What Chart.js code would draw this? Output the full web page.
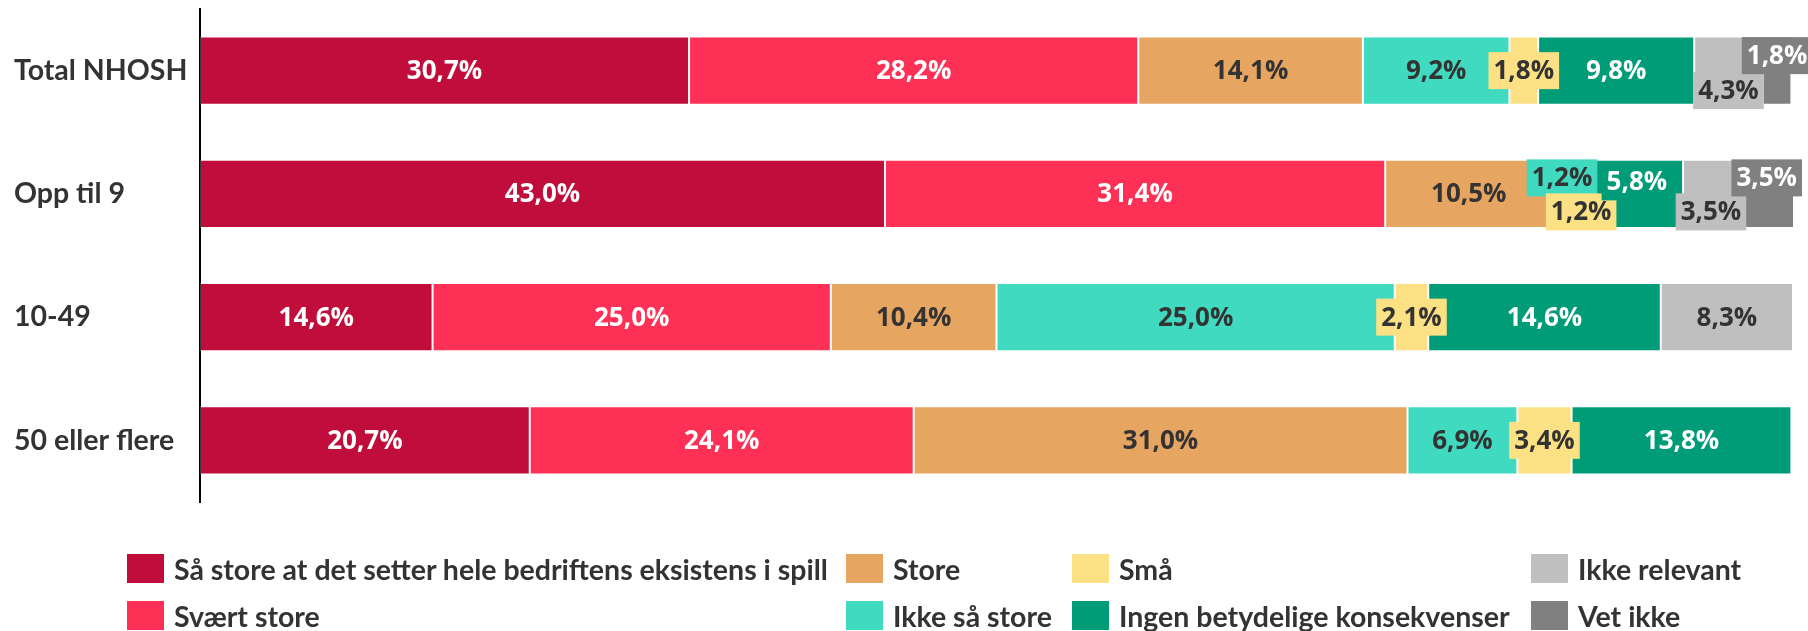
<!DOCTYPE html>
<html>
<head>
<meta charset="utf-8">
<script src="https://cdn.jsdelivr.net/npm/chart.js"></script>
<style>
html,body{margin:0;padding:0;background:#fff;}
#wrap{position:relative;width:1808px;height:631px;overflow:hidden;background:#fff;}
#c{position:absolute;left:0;top:0;}
#legend{position:absolute;left:127px;top:545px;display:grid;grid-template-columns:719px 226px 459px 260px;grid-template-rows:47px 47px;grid-auto-flow:column;font-family:Lato,"Open Sans",sans-serif;font-weight:700;font-size:28.5px;color:#333;}
.item{display:flex;align-items:center;white-space:nowrap;}
.box{width:37px;height:29px;margin-right:10px;flex:none;}
</style>
</head>
<body>
<div id="wrap">
<canvas id="c" width="1808" height="631"></canvas>
<div id="legend"></div>
</div>
<script>
// ---- data ----
const categories = ['Total NHOSH', 'Opp til 9', '10-49', '50 eller flere'];
const seriesNames = [
  'Så store at det setter hele bedriftens eksistens i spill',
  'Svært store',
  'Store',
  'Ikke så store',
  'Små',
  'Ingen betydelige konsekvenser',
  'Ikke relevant',
  'Vet ikke'
];
const saStore      = [30.7, 43.0, 14.6, 20.7];
const svaertStore  = [28.2, 31.4, 25.0, 24.1];
const store        = [14.1, 10.5, 10.4, 31.0];
const ikkeSaStore  = [9.2, 1.2, 25.0, 6.9];
const sma          = [1.8, 1.2, 2.1, 3.4];
const ingen        = [9.8, 5.8, 14.6, 13.8];
const ikkeRelevant = [4.3, 3.5, 8.3, 0];
const vetIkke      = [1.8, 3.5, 0, 0];

// ---- styles ----
const seriesValues = [saStore, svaertStore, store, ikkeSaStore, sma, ingen, ikkeRelevant, vetIkke];
const colors = ['#C00D3C', '#FF3055', '#E6A560', '#3FDAC0', '#FBE183', '#009C77', '#BFBFBF', '#808080'];
const labelColors = ['#fff', '#fff', '#333', '#333', '#333', '#fff', '#333', '#fff'];
// vertical nudges (px) for crowded data labels: "datasetIndex-categoryIndex"
const labelShift = {'6-0': 20, '7-0': -15, '3-1': -16, '4-1': 18, '5-1': -12, '6-1': 18, '7-1': -16};

const labelPlugin = {
  id: 'barLabels',
  afterDatasetsDraw(chart) {
    const ctx = chart.ctx;
    ctx.save();
    ctx.font = '700 26px "Open Sans"';
    ctx.textAlign = 'center';
    ctx.textBaseline = 'middle';
    chart.data.datasets.forEach((ds, di) => {
      const meta = chart.getDatasetMeta(di);
      meta.data.forEach((bar, i) => {
        const v = ds.data[i];
        if (!v) return;
        const txt = v.toFixed(1).replace('.', ',') + '%';
        const cx = (bar.x + bar.base) / 2;
        const cy = bar.y + (labelShift[di + '-' + i] || 0);
        const w = ctx.measureText(txt).width + 10;
        const h = 37;
        ctx.fillStyle = colors[di];
        ctx.fillRect(cx - w / 2, cy - h / 2, w, h);
        ctx.fillStyle = labelColors[di];
        ctx.fillText(txt, cx, cy + 1);
      });
    });
    ctx.restore();
  }
};

const chart = new Chart(document.getElementById('c'), {
  type: 'bar',
  data: {
    labels: categories,
    datasets: seriesNames.map((name, k) => ({
      label: name,
      data: seriesValues[k],
      backgroundColor: colors[k]
    }))
  },
  options: {
    responsive: false,
    animation: false,
    devicePixelRatio: 1,
    indexAxis: 'y',
    layout: {padding: {left: 14, right: 15, top: 9, bottom: 129}},
    plugins: {legend: {display: false}, tooltip: {enabled: false}},
    datasets: {bar: {categoryPercentage: 1, barPercentage: 0.552, borderWidth: 1, borderColor: 'rgba(255,255,255,0.22)', borderSkipped: false}},
    scales: {
      x: {stacked: true, min: 0, max: 100, display: false},
      y: {
        stacked: true,
        grid: {display: false, drawTicks: false},
        border: {display: true, color: '#000', width: 2},
        ticks: {crossAlign: 'far', color: '#333', padding: 0, font: {family: 'Lato', weight: 'bold', size: 28.5, lineHeight: 0.5}},
        afterFit(s) { s.width = 186; s.paddingTop = 0; s.paddingBottom = 0; }
      }
    }
  },
  plugins: [labelPlugin]
});

// ---- legend (HTML, column-major like the reference) ----
const legendEl = document.getElementById('legend');
chart.data.datasets.forEach((ds) => {
  const item = document.createElement('div');
  item.className = 'item';
  const box = document.createElement('span');
  box.className = 'box';
  box.style.background = ds.backgroundColor;
  const t = document.createElement('span');
  t.textContent = ds.label;
  item.appendChild(box);
  item.appendChild(t);
  legendEl.appendChild(item);
});
</script>
</body>
</html>
